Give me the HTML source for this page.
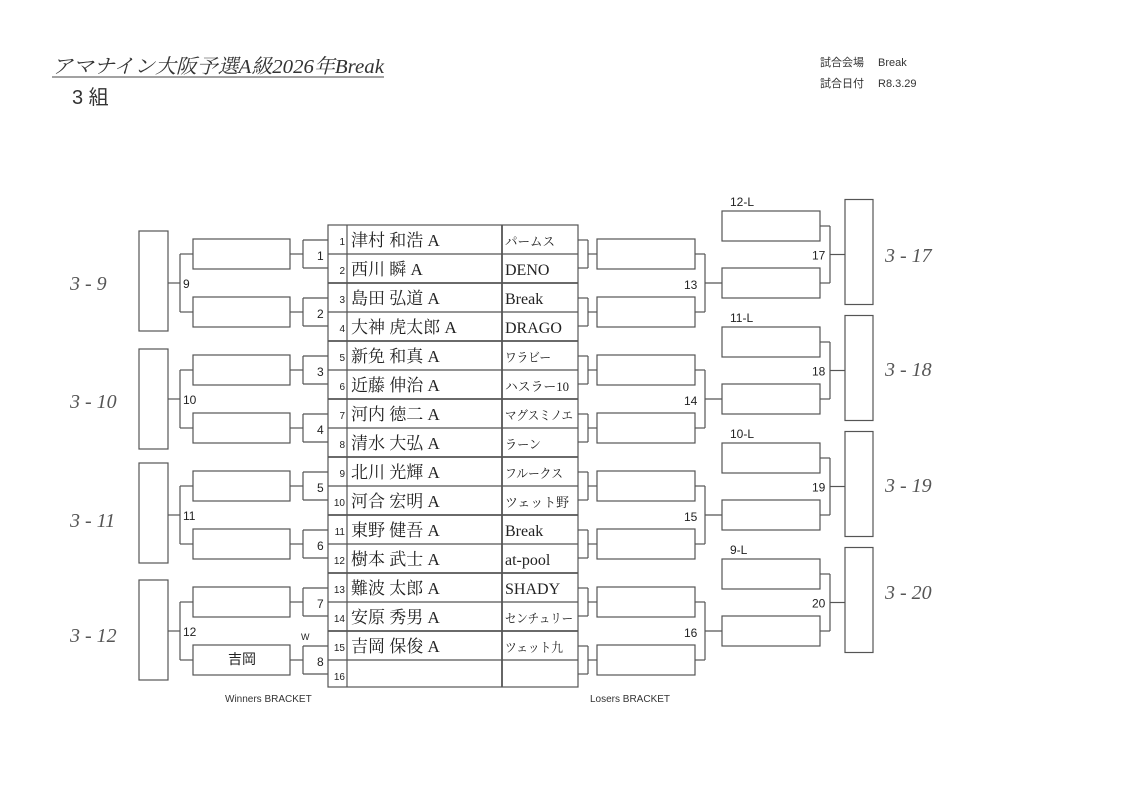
<!DOCTYPE html>
<html><head><meta charset="utf-8"><style>
html,body{margin:0;padding:0;background:#fff;}
svg{display:block}
.s{font-family:"Liberation Sans","Noto Sans CJK JP",sans-serif;}
.r{font-family:"Liberation Serif","Noto Serif CJK SC","Noto Sans CJK JP",serif;}
.h{font-family:"Liberation Serif",serif;font-style:italic;}
</style></head><body>
<svg width="1123" height="794" viewBox="0 0 1123 794" xmlns="http://www.w3.org/2000/svg">
<g fill="#333" class="s">
<text x="52" y="73" font-size="20" class="r" font-style="italic" textLength="332" lengthAdjust="spacingAndGlyphs">アマナイン大阪予選A級2026年Break</text>
<line x1="52" y1="77" x2="384" y2="77" stroke="#444" stroke-width="1"/>
<text x="72" y="104" font-size="20">3 組</text>
<text x="820" y="66" font-size="11">試合会場</text><text x="878" y="66" font-size="11">Break</text>
<text x="820" y="87" font-size="11">試合日付</text><text x="878" y="87" font-size="11">R8.3.29</text>
<text x="225" y="702" font-size="10">Winners BRACKET</text>
<text x="590" y="702" font-size="10">Losers BRACKET</text>
</g>
<g fill="none" stroke="#555" stroke-width="1.2">
<rect x="328" y="225" width="250" height="462"/>
<line x1="347" y1="225" x2="347" y2="687"/>
<line x1="502" y1="225" x2="502" y2="687" stroke-width="1.8"/>
<line x1="328" y1="254" x2="578" y2="254"/><line x1="328" y1="283" x2="578" y2="283" stroke-width="1.8"/>
<line x1="328" y1="312" x2="578" y2="312"/><line x1="328" y1="341" x2="578" y2="341" stroke-width="1.8"/>
<line x1="328" y1="370" x2="578" y2="370"/><line x1="328" y1="399" x2="578" y2="399" stroke-width="1.8"/>
<line x1="328" y1="428" x2="578" y2="428"/><line x1="328" y1="457" x2="578" y2="457" stroke-width="1.8"/>
<line x1="328" y1="486" x2="578" y2="486"/><line x1="328" y1="515" x2="578" y2="515" stroke-width="1.8"/>
<line x1="328" y1="544" x2="578" y2="544"/><line x1="328" y1="573" x2="578" y2="573" stroke-width="1.8"/>
<line x1="328" y1="602" x2="578" y2="602"/><line x1="328" y1="631" x2="578" y2="631" stroke-width="1.8"/>
<line x1="328" y1="660" x2="578" y2="660"/>
</g>
<g id="L" fill="none" stroke="#555" stroke-width="1.2"></g>
<g id="T" fill="#222"></g>
<script>
const ns="http://www.w3.org/2000/svg";
const L=document.getElementById('L'),T=document.getElementById('T');
function ln(x1,y1,x2,y2){const e=document.createElementNS(ns,'line');e.setAttribute('x1',x1);e.setAttribute('y1',y1);e.setAttribute('x2',x2);e.setAttribute('y2',y2);L.appendChild(e);}
function rc(x,y,w,h){const e=document.createElementNS(ns,'rect');e.setAttribute('x',x);e.setAttribute('y',y);e.setAttribute('width',w);e.setAttribute('height',h);L.appendChild(e);}
function tx(x,y,s,sz,cls,anchor,tl){const e=document.createElementNS(ns,'text');e.setAttribute('x',x);e.setAttribute('y',y);e.setAttribute('font-size',sz);e.setAttribute('class',cls||'s');if(anchor)e.setAttribute('text-anchor',anchor);if(tl){e.setAttribute('textLength',tl);e.setAttribute('lengthAdjust','spacingAndGlyphs');}e.textContent=s;T.appendChild(e);return e;}
for(let k=0;k<8;k++){
 const c=254+58*k;
 rc(193,c-15,97,30);
 ln(290,c,303,c);ln(303,c-14,303,c+14);ln(303,c-14,328,c-14);ln(303,c+14,328,c+14);
 tx(317,c+6,String(k+1),12,'s');
}
for(let m=0;m<4;m++){
 const a=254+116*m,b=a+58,mid=a+29;
 ln(180,a,193,a);ln(180,b,193,b);ln(180,a,180,b);ln(168,mid,180,mid);
 tx(183,mid+5,String(9+m),12,'s');
}
rc(139,231,29,100);rc(139,349,29,100);rc(139,463,29,100);rc(139,580,29,100);
tx(301,640,'W',9,'s');tx(242,664,'吉岡',14,'s','middle');
for(let m=0;m<4;m++){
 const a=254+116*m,b=a+58,mid=a+29;
 [a,b].forEach(c=>{ln(578,c-14,588,c-14);ln(578,c+14,588,c+14);ln(588,c-14,588,c+14);ln(588,c,597,c);rc(597,c-15,98,30);});
 ln(695,a,705,a);ln(695,b,705,b);ln(705,a,705,b);ln(705,mid,722,mid);
 tx(684,mid+6,String(13+m),12,'s');
 const c1=mid-57,c2=mid;
 rc(722,c1-15,98,30);rc(722,c2-15,98,30);
 ln(820,c1,830,c1);ln(820,c2,830,c2);ln(830,c1,830,c2);
 const m2=(c1+c2)/2;ln(830,m2,845,m2);
 tx(812,m2+5,String(17+m),12,'s');
 tx(730,c1-20,(12-m)+'-L',12,'s');
 rc(845,m2-55,28,105);
}
const names=['津村 和浩 A','西川 瞬 A','島田 弘道 A','大神 虎太郎 A','新免 和真 A','近藤 伸治 A','河内 徳二 A','清水 大弘 A','北川 光輝 A','河合 宏明 A','東野 健吾 A','樹本 武士 A','難波 太郎 A','安原 秀男 A','吉岡 保俊 A',''];
const teams=['パームス','DENO','Break','DRAGO','ワラビー','ハスラー10','マグスミノエ','ラーン','フルークス','ツェット野','Break','at-pool','SHADY','センチュリー','ツェット九',''];
const tlen={'パームス':50,'ワラビー':46,'ハスラー10':64,'マグスミノエ':68,'ラーン':36,'フルークス':58,'ツェット野':64,'センチュリー':68,'ツェット九':58};
for(let i=0;i<16;i++){
 const y=225+29*i+21;
 tx(345,y-1,String(i+1),10,'s','end');
 if(names[i])tx(351,y,names[i],17,'r');
 if(teams[i]){const lat=/^[A-Za-z]/.test(teams[i]);tx(505,y,teams[i],lat?16:13,'r',null,lat?null:tlen[teams[i]]);}
}
const hw=[['3 - 9',70,290],['3 - 10',70,408],['3 - 11',70,527],['3 - 12',70,642],['3 - 17',885,262],['3 - 18',885,376],['3 - 19',885,492],['3 - 20',885,599]];
hw.forEach(h=>{const e=document.createElementNS(ns,'text');e.setAttribute('x',h[1]);e.setAttribute('y',h[2]);e.setAttribute('font-size','20');e.setAttribute('class','h');e.setAttribute('fill','#555');e.textContent=h[0];T.appendChild(e);});
</script>
</svg>
</body></html>
